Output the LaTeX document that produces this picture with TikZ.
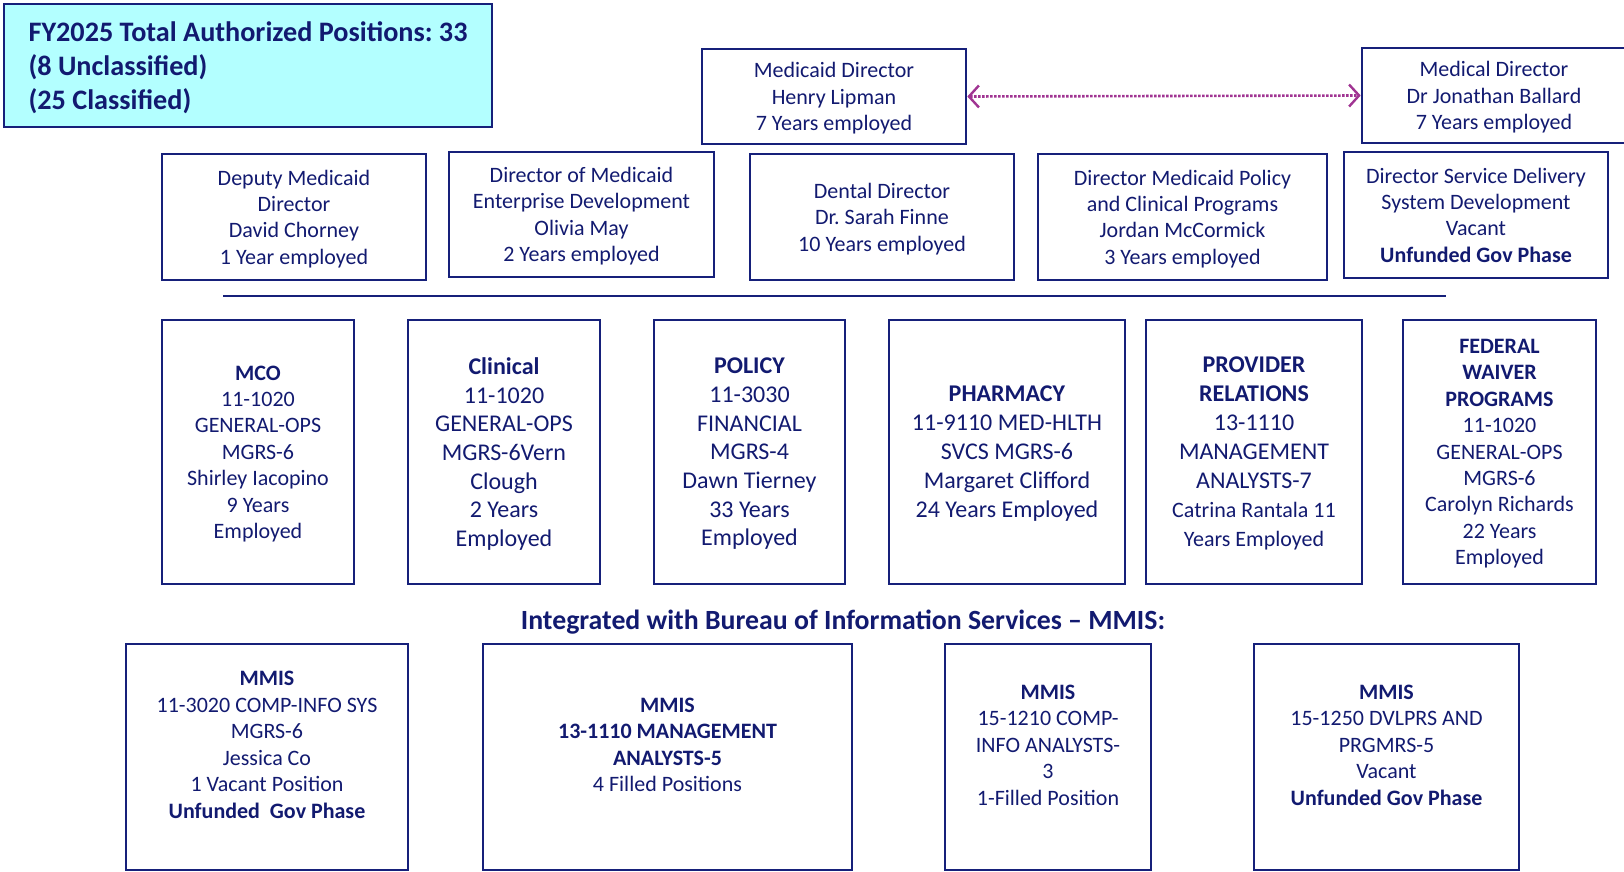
\documentclass[tikz,border=0pt]{standalone}
\usepackage{fontspec}
\setmainfont{Carlito}
\usetikzlibrary{arrows.meta}

\definecolor{navyline}{RGB}{22,32,122}
\definecolor{navytext}{RGB}{18,26,112}
\definecolor{totalfill}{RGB}{179,255,255}
\definecolor{linkpurple}{RGB}{160,52,146}

\newcommand{\sz}[2]{\fontsize{#1}{#2}\selectfont}
\frenchspacing

\begin{document}
\begin{tikzpicture}[x=1pt,y=-1pt,
  box/.style={draw=navyline, line width=2.6pt, text=navytext, align=center, inner sep=0pt, text depth=0pt},
  txt/.style={text=navytext, align=center, inner sep=0pt},
  link/.style={draw=linkpurple, line width=2.6pt, dash pattern=on 2.4pt off 1.6pt,
    {Straight Barb[length=10pt,width=22pt,line width=2.4pt]}-{Straight Barb[length=10pt,width=22pt,line width=2.4pt]}}
]
\useasboundingbox (0,0) rectangle (1624,872);

% total count
\node[box, fill=totalfill, minimum width=488, minimum height=123, align=left,
  font=\sz{28.2}{33.7}\bfseries] (total) at (248,65.5)
  {FY2025 Total Authorized Positions: 33\\(8 Unclassified)\\(25 Classified)};

% directors
\node[box, minimum width=264, minimum height=95, font=\sz{22}{26.4}] (mdir) at (834,96.5)
  {Medicaid Director\\Henry Lipman\\7 Years employed};
\node[box, minimum width=264, minimum height=95, font=\sz{22}{26.4}] (meddir) at (1494,95.5)
  {Medical Director\\Dr Jonathan Ballard\\7 Years employed};
\draw[link] (mdir.east) -- (meddir.west);

\node[box, minimum width=264, minimum height=126, font=\sz{22}{26.4}] (deputy) at (294,217)
  {Deputy Medicaid\\Director\\David Chorney\\1 Year employed};
\node[box, minimum width=265, minimum height=125, font=\sz{22}{26.4}] (enterprise) at (581.5,214.5)
  {Director of Medicaid\\Enterprise Development\\Olivia May\\2 Years employed};
\node[box, minimum width=264, minimum height=126, font=\sz{22}{26.4}] (dental) at (882,217)
  {Dental Director\\Dr. Sarah Finne\\10 Years employed};
\node[box, minimum width=289, minimum height=126, font=\sz{22}{26.4}] (policydir) at (1182.5,217)
  {Director Medicaid Policy\\and Clinical Programs\\Jordan McCormick\\3 Years employed};
\node[box, minimum width=264, minimum height=126, font=\sz{22}{26.4}] (service) at (1476,215)
  {Director Service Delivery\\System Development\\Vacant\\\textbf{Unfunded Gov Phase}};

\coordinate (ruleL) at (223,296);
\coordinate (ruleR) at (1446,296);
\draw[navyline, line width=2.6pt] (ruleL) -- (ruleR);

% units
\node[box, minimum width=192, minimum height=264, font=\sz{22}{26.4}] (mco) at (258,452)
  {\textbf{MCO}\\11-1020\\GENERAL-OPS\\MGRS-6\\Shirley Iacopino\\9 Years\\Employed};
\node[box, minimum width=192, minimum height=264, font=\sz{24}{28.7}] (clinical) at (504,452)
  {\textbf{Clinical}\\11-1020\\GENERAL-OPS\\MGRS-6Vern\\Clough\\2 Years\\Employed};
\node[box, minimum width=191, minimum height=264, font=\sz{24}{28.7}] (policy) at (749.5,452)
  {\textbf{POLICY}\\11-3030\\FINANCIAL\\MGRS-4\\Dawn Tierney\\33 Years\\Employed};
\node[box, minimum width=236, minimum height=264, font=\sz{24}{29}] (pharmacy) at (1007,452)
  {\textbf{PHARMACY}\\11-9110 MED-HLTH\\SVCS MGRS-6\\Margaret Clifford\\24 Years Employed};
\node[box, minimum width=216, minimum height=264, font=\sz{24}{29}] (provider) at (1254,452)
  {\textbf{PROVIDER}\\\textbf{RELATIONS}\\13-1110\\MANAGEMENT\\ANALYSTS-7\\{\sz{22}{27}Catrina Rantala 11}\\{\sz{22}{27}Years Employed}};
\node[box, minimum width=193, minimum height=264, font=\sz{22}{26.4}] (federal) at (1499.5,452)
  {\textbf{FEDERAL}\\\textbf{WAIVER}\\\textbf{PROGRAMS}\\11-1020\\GENERAL-OPS\\MGRS-6\\Carolyn Richards\\22 Years\\Employed};

% MMIS
\node[txt, font=\sz{27.8}{30}\bfseries] (mmistitle) at (843,622.5)
  {Integrated with Bureau of Information Services -- MMIS:};

\node[box, minimum width=282, minimum height=226] (mmisA) at (267,757) {};
\node[box, minimum width=369, minimum height=226] (mmisB) at (667.5,757) {};
\node[box, minimum width=206, minimum height=226] (mmisC) at (1048,757) {};
\node[box, minimum width=265, minimum height=226] (mmisD) at (1386.5,757) {};

\node[txt, font=\sz{22}{26.5}] (mmisAtxt) at ([yshift=12pt]mmisA.center)
  {\textbf{MMIS}\\11-3020 COMP-INFO SYS\\MGRS-6\\Jessica Co\\1 Vacant Position\\\textbf{Unfunded\ \ Gov Phase}};
\node[txt, font=\sz{22}{26.5}] (mmisBtxt) at ([yshift=12pt]mmisB.center)
  {\textbf{MMIS}\\\textbf{13-1110 MANAGEMENT}\\\textbf{ANALYSTS-5}\\4 Filled Positions};
\node[txt, font=\sz{22}{26.5}] (mmisCtxt) at ([yshift=12pt]mmisC.center)
  {\textbf{MMIS}\\15-1210 COMP-\\INFO ANALYSTS-\\3\\1-Filled Position};
\node[txt, font=\sz{22}{26.5}] (mmisDtxt) at ([yshift=12pt]mmisD.center)
  {\textbf{MMIS}\\15-1250 DVLPRS AND\\PRGMRS-5\\Vacant\\\textbf{Unfunded Gov Phase}};
\end{tikzpicture}
\end{document}
